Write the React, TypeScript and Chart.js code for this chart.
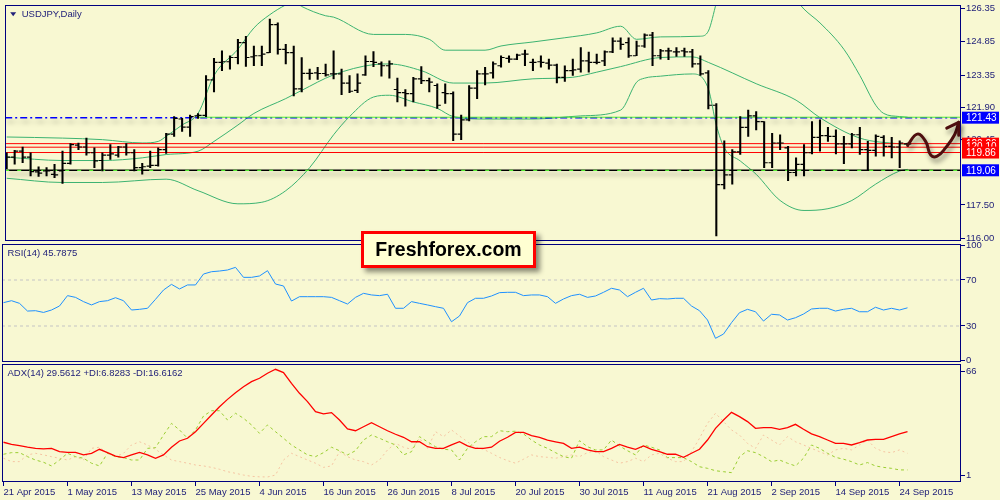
import React, { useEffect, useRef } from 'react';
import { Chart, registerables } from 'chart.js';

Chart.register(...registerables);

const BG = '#f8f8d2';
const NAVY = '#000080';
const TXT = '#22227a';
const FONT = '"Liberation Sans", Arial, sans-serif';
const BB = '#3cb371';

// ---------- price data (21 Apr 2015 .. 25 Sep 2015, daily bars) ----------
const opens = [
  119.62, 119.65, 119.92, 119.65, 118.99, 119.03, 118.88, 119.03, 119.37, 120.19,
  120.11, 119.85, 119.50, 119.74, 119.74, 120.11, 119.85, 119.18, 119.25, 119.28,
  119.99, 120.69, 121.37, 121.00, 121.51, 121.53, 123.13, 123.92, 123.95, 124.14,
  124.81, 124.17, 124.22, 124.36, 125.62, 124.51, 124.36, 122.73, 123.43, 123.45,
  123.42, 123.40, 123.40, 122.99, 122.66, 123.36, 123.96, 123.85, 123.77, 122.70,
  122.56, 122.51, 123.18, 123.10, 122.88, 122.56, 122.51, 120.69, 121.33, 122.76,
  123.40, 123.45, 123.77, 124.10, 124.07, 124.29, 123.92, 123.95, 123.89, 123.80,
  123.25, 123.55, 123.62, 123.99, 123.92, 123.99, 124.39, 124.88, 124.81, 124.22,
  124.66, 125.15, 124.22, 124.44, 124.39, 124.44, 124.39, 123.85, 123.45, 121.99,
  118.41, 118.85, 119.89, 120.99, 121.51, 121.25, 119.40, 120.29, 120.07, 118.96,
  119.33, 119.85, 120.54, 120.62, 120.59, 120.25, 120.25, 120.66, 119.99, 119.96,
  120.54, 120.14, 120.11, 120.25,
];
const highs = [
  119.85, 119.96, 120.11, 119.85, 119.22, 119.18, 119.33, 119.92, 120.26, 120.29,
  120.51, 120.07, 119.85, 120.22, 120.14, 120.26, 119.99, 119.37, 119.92, 120.07,
  120.73, 121.48, 121.40, 121.55, 121.61, 123.33, 124.10, 124.44, 124.22, 124.96,
  125.10, 124.66, 124.66, 125.87, 125.70, 124.73, 124.66, 124.14, 123.62, 123.70,
  123.85, 124.44, 123.62, 123.33, 123.40, 124.22, 124.41, 123.95, 123.99, 123.21,
  122.70, 123.25, 123.73, 123.21, 122.96, 122.96, 122.59, 121.55, 122.88, 123.55,
  123.70, 123.95, 124.22, 124.22, 124.29, 124.48, 124.07, 124.22, 124.07, 123.85,
  123.77, 124.07, 124.59, 124.39, 124.29, 124.44, 125.03, 125.03, 125.03, 124.88,
  125.21, 125.28, 124.51, 124.56, 124.59, 124.56, 124.51, 124.22, 123.55, 122.07,
  120.39, 119.99, 121.48, 121.77, 121.70, 121.25, 120.73, 120.66, 120.14, 119.62,
  120.22, 121.25, 121.33, 120.99, 120.88, 120.59, 120.73, 120.99, 120.36, 120.66,
  120.62, 120.54, 120.39, 120.29,
];
const lows = [
  119.13, 119.33, 119.40, 118.81, 118.78, 118.81, 118.73, 118.47, 119.33, 119.99,
  119.74, 119.18, 119.03, 119.55, 119.65, 119.74, 119.03, 118.88, 119.18, 119.25,
  119.82, 120.59, 120.81, 120.59, 121.40, 121.48, 122.59, 123.55, 123.62, 123.85,
  123.74, 123.77, 123.77, 124.36, 124.29, 123.85, 122.41, 122.59, 123.15, 123.15,
  123.30, 123.18, 122.47, 122.56, 122.56, 123.33, 123.73, 123.30, 123.21, 122.14,
  121.95, 122.14, 122.96, 122.59, 121.85, 122.07, 120.39, 120.44, 121.28, 122.29,
  122.91, 123.21, 123.70, 123.92, 124.04, 123.77, 123.55, 123.70, 123.62, 123.00,
  123.06, 123.33, 123.48, 123.48, 123.85, 123.77, 124.36, 124.51, 124.14, 124.22,
  124.59, 123.77, 124.07, 124.04, 124.19, 124.19, 123.70, 123.33, 121.82, 116.10,
  118.22, 118.44, 119.77, 120.59, 120.88, 119.18, 119.18, 119.99, 118.59, 118.81,
  118.81, 119.80, 119.92, 120.36, 119.80, 119.36, 120.07, 119.77, 119.06, 119.70,
  119.70, 119.62, 119.18, 120.14,
];
const closes = [
  119.65, 119.92, 119.65, 119.00, 118.93, 119.03, 118.85, 119.37, 120.22, 120.11,
  119.85, 119.48, 119.74, 119.80, 120.11, 119.85, 119.18, 119.22, 119.28, 119.99,
  120.69, 121.40, 121.00, 121.48, 121.53, 123.13, 123.92, 123.95, 124.14, 124.81,
  124.14, 124.22, 124.29, 125.62, 124.51, 124.36, 122.73, 123.43, 123.43, 123.42,
  123.36, 123.40, 122.99, 122.62, 122.99, 123.96, 123.92, 123.77, 123.85, 122.56,
  122.51, 123.18, 123.10, 123.03, 121.99, 122.51, 120.69, 121.33, 122.76, 123.40,
  123.40, 123.85, 124.14, 124.07, 124.25, 124.29, 123.92, 123.92, 123.80, 123.25,
  123.55, 123.58, 123.99, 123.92, 123.92, 124.39, 124.88, 124.73, 124.22, 124.66,
  125.15, 124.22, 124.44, 124.44, 124.39, 124.39, 123.85, 123.40, 121.99, 118.41,
  118.85, 119.89, 120.99, 121.51, 121.25, 119.40, 120.29, 120.29, 118.96, 119.33,
  119.85, 120.54, 120.62, 120.59, 120.25, 120.25, 120.66, 119.99, 119.96, 120.59,
  120.14, 120.11, 120.29, 120.25,
];

// Bollinger bands (read at sample bars)
const bbUpperIdx = [0, 7, 12, 17, 19, 20, 22, 24, 26, 29, 31, 33, 35, 36, 37, 40, 41, 46, 50, 53, 55, 60, 62, 66, 70, 74, 77, 79, 82, 87, 88, 89, 90, 92, 95, 97, 100, 102, 105, 107, 109, 110, 112, 113];
const bbUpper = [120.56, 120.51, 120.44, 120.29, 120.36, 120.59, 121.10, 121.62, 123.33, 124.51, 125.47, 126.07, 126.51, 126.66, 126.44, 126.02, 125.96, 125.18, 125.18, 124.96, 124.47, 124.47, 124.66, 124.84, 125.03, 125.25, 125.55, 124.96, 125.07, 125.10, 125.33, 126.59, 127.8, 128.5, 128.3, 127.6, 126.32, 125.70, 124.51, 123.33, 121.99, 121.62, 121.48, 121.45];
const bbMidIdx = [0, 7, 12, 17, 20, 24, 26, 29, 31, 35, 37, 41, 46, 48, 52, 56, 60, 66, 71, 74, 77, 82, 86, 88, 94, 99, 102, 107, 112, 113];
const bbMid = [119.65, 119.50, 119.50, 119.62, 119.77, 119.92, 120.36, 121.10, 121.62, 122.29, 122.66, 123.36, 123.82, 123.85, 123.55, 122.99, 122.99, 123.18, 123.25, 123.48, 123.73, 124.14, 124.17, 123.92, 122.96, 122.22, 121.43, 120.51, 120.25, 120.22];
const bbLowerIdx = [0, 7, 12, 20, 24, 29, 32, 35, 38, 41, 43, 46, 48, 51, 54, 56, 60, 66, 72, 77, 79, 80, 82, 86, 88, 89, 90, 92, 94, 97, 100, 103, 106, 109, 112, 113];
const bbLower = [118.70, 118.51, 118.51, 118.66, 118.14, 117.55, 117.62, 118.14, 119.18, 120.66, 121.48, 122.36, 122.44, 122.14, 121.85, 121.48, 121.37, 121.37, 121.51, 121.77, 123.03, 123.21, 123.30, 123.40, 122.73, 121.10, 120.07, 119.48, 118.88, 117.70, 117.25, 117.33, 117.70, 118.44, 119.03, 119.10];

// horizontal levels
const resistLevel = 121.43;
const resistGreen = 121.45;
const resistGreenFrom = 24;
const supportLevel = 119.06;
const redLevels = [120.26, 120.10, 119.86];
const tagValues = [121.43, 120.26, 120.10, 119.86, 119.06];
const tagColors = ['#0000ff', '#ff0000', '#ff0000', '#ff0000', '#0000ff'];
const priceTicks = [126.35, 124.85, 123.35, 121.9, 120.45, 117.5, 116.0];

// hand-drawn forecast arrow (bar index, price)
const arrowIdx = [113, 114.2, 115.25, 115.9, 116.7, 117.75, 118.9, 119.4];
const arrowPrice = [120.19, 120.69, 120.36, 119.74, 119.70, 120.07, 120.67, 121.22];
const headIdx = [117.9, 119.4, 119.4];
const headPrice = [120.96, 121.22, 120.64];

// ---------- RSI(14) ----------
const rsi = [
  50.3, 52, 49.7, 43, 43.3, 41.8, 43.9, 47.4, 56.4, 54.9,
  51.2, 48.3, 51.2, 52, 54.6, 52, 43.9, 44.5, 45.4, 53.2,
  61.3, 66.2, 62.2, 65.7, 65.7, 75.2, 77.2, 77.8, 78.7, 81,
  72.3, 72.3, 73.5, 78.1, 66.5, 64.8, 51.7, 55.5, 55.5, 55.5,
  55.5, 54.9, 52, 49.1, 54.9, 58.4, 57, 56.4, 57.6, 45.4,
  45.4, 51.2, 49.7, 48.3, 46.8, 45.4, 33.7, 38.7, 50.3, 54.1,
  54.1, 56.1, 59, 59.3, 59.3, 56.4, 57, 57, 55.5, 49.7,
  53.5, 56.4, 57.6, 54.9, 56.1, 59.3, 62.8, 61.3, 55.5, 59.3,
  62.8, 52.6, 53.8, 53.5, 54.1, 54.1, 47.4, 43.3, 35.2, 19.3,
  23, 32.9, 41.6, 44.5, 42.4, 34.3, 40.2, 39.6, 35.2, 37.2,
  40.4, 44.8, 45.4, 45.4, 43, 44.5, 45.4, 42.4, 42.4, 46.3,
  43.9, 45.4, 43.9, 45.8,
];
const rsiLevels = [70, 30];
const rsiTicks = [100, 70, 30, 0];

// ---------- ADX(14) ----------
const adx = [
  21.9, 20.6, 19.8, 18.8, 18.1, 17.7, 18.1, 16, 15.6, 15.6,
  14, 15, 17.5, 15.4, 13.3, 12.3, 14, 15.6, 14, 11.9,
  14, 18.8, 22.7, 24.4, 28.5, 33.7, 38.9, 44.1, 48.7, 52.9,
  56.6, 59.8, 61.9, 65, 67.5, 65.4, 58.7, 52.5, 47.3, 41,
  39.6, 40.4, 35.8, 30.2, 29.1, 31.6, 34.1, 31.6, 29.1, 26.9,
  25, 22.2, 22.2, 19.1, 18.1, 18.1, 20.2, 22.2, 19.6, 18.1,
  18.1, 18.8, 22.5, 25, 28.1, 28.1, 26, 25, 23.3, 22.2,
  21.2, 18.1, 18.8, 17.1, 16, 16, 18.1, 20.6, 18.8, 17.5,
  19.6, 17.5, 16, 14.4, 14.4, 12.5, 15, 17.5, 23.3, 30.6,
  35.8, 40.6, 37.9, 34.8, 30.6, 31, 31, 30, 31, 33.1,
  30, 27.1, 25.4, 23.3, 21.2, 21.2, 20.2, 21.6, 23.3, 23.7,
  23.7, 25.4, 27.1, 28.5,
];
const plusDI = [
  14.4, 15.4, 15.4, 12.9, 10.8, 9.4, 7.1, 10.8, 15, 12.9,
  11.9, 8.8, 7.1, 15, 12.9, 12.3, 10.8, 10.8, 18.1, 18.5,
  26.4, 33.7, 29.6, 24.4, 29.6, 38.3, 41.6, 41.6, 35.8, 40,
  36.9, 32.7, 27.5, 32.7, 28.5, 24.4, 20.2, 17.1, 14, 12.9,
  15.4, 18.8, 16.6, 14, 16.6, 23.3, 26.4, 24.4, 22.2, 20.2,
  14, 16, 25.4, 22.2, 19.1, 17.5, 17.1, 10.8, 18.1, 22.2,
  25.4, 25.4, 29.1, 28.5, 28.8, 27.1, 23.3, 20.2, 18.1, 15.4,
  12.9, 11.9, 22.9, 19.1, 17.1, 17.1, 23.3, 19.6, 16.6, 14,
  20.2, 18.8, 17.1, 12.3, 12.3, 12.3, 9.8, 6.6, 5.6, 4.1,
  3.5, 2.9, 12.9, 16.6, 15.4, 12.9, 9.8, 10.8, 8.8, 7.1,
  11.9, 20.2, 18.1, 15, 12.5, 11.3, 9.8, 7.7, 9.2, 7.1,
  6.2, 5.6, 4.6, 4.6,
];
const minusDI = [
  11.9, 9.8, 9.8, 14, 15, 14, 12.9, 11.9, 10.8, 12.9,
  10.8, 18.1, 18.8, 15, 12.9, 15, 20.2, 22.2, 20.2, 17.5,
  14, 10.8, 9.8, 8.8, 7.7, 7.1, 6.2, 5, 3.5, 2.5,
  1.4, 0.6, 0.3, 0.2, 1.4, 10.8, 15, 12.9, 10.8, 8.8,
  6.2, 7.1, 16, 12.9, 10.8, 9.8, 7.7, 10.8, 17.1, 21.2,
  18.8, 17.5, 24.4, 18.1, 28.5, 25.4, 29.6, 25.8, 22.2, 18.8,
  17.5, 15, 12.4, 10.4, 8.8, 11.3, 14, 12.9, 12.5, 11.9,
  12.9, 14, 12.9, 15.4, 16.6, 12.9, 10.8, 8.8, 9.8, 11.9,
  9.8, 14, 15, 11.9, 9.8, 9.8, 16, 24.4, 33.7, 40,
  34.8, 29.6, 26.4, 21.2, 18.1, 26.4, 23.3, 20.2, 25.4, 22.2,
  20.2, 18.1, 16, 14, 17.1, 18.1, 17.1, 20.2, 23.3, 18.1,
  16, 15.4, 17.1, 15,
];
const adxTicks = [66, 1];

// ---------- x axis ----------
const xTickIdx = [0, 8, 16, 24, 32, 40, 48, 56, 64, 72, 80, 88, 96, 104, 112];
const xTickLabels = [
  '21 Apr 2015', '1 May 2015', '13 May 2015', '25 May 2015', '4 Jun 2015',
  '16 Jun 2015', '26 Jun 2015', '8 Jul 2015', '20 Jul 2015', '30 Jul 2015',
  '11 Aug 2015', '21 Aug 2015', '2 Sep 2015', '14 Sep 2015', '24 Sep 2015',
];

const X_MIN = -0.1875;
const X_MAX = 119.6875;

// ---------- helpers ----------
const pts = (xs: number[], ys: number[]) => xs.map((x, k) => ({ x, y: ys[k] }));
const series = (ys: number[]) => ys.map((y, i) => ({ x: i, y }));
const hline = (v: number, from = X_MIN) => [{ x: from, y: v }, { x: X_MAX, y: v }];

const borderPlugin = {
  id: 'panelBorder',
  afterDraw(chart: any) {
    const { ctx, chartArea: a } = chart;
    ctx.save();
    ctx.strokeStyle = NAVY;
    ctx.lineWidth = 1;
    const l = Math.round(a.left) + 0.5;
    const t = Math.round(a.top) + 0.5;
    const r = Math.round(a.right) - 0.5;
    const b = Math.round(a.bottom) - 0.5;
    ctx.strokeRect(l, t, r - l, b - t);
    ctx.restore();
  },
};

const shadowPlugin = {
  id: 'dsShadow',
  beforeDatasetDraw(chart: any, args: any) {
    const ds = chart.data.datasets[args.index];
    if (ds.shadow) {
      const c = chart.ctx;
      c.save();
      c.shadowColor = ds.shadow;
      c.shadowBlur = 5;
      c.shadowOffsetX = 2;
      c.shadowOffsetY = 4;
    }
  },
  afterDatasetDraw(chart: any, args: any) {
    if (chart.data.datasets[args.index].shadow) chart.ctx.restore();
  },
};

const headerPlugin = (text: string, x: number, triangle: boolean) => ({
  id: 'header',
  afterDraw(chart: any) {
    const { ctx, chartArea: a } = chart;
    ctx.save();
    ctx.fillStyle = TXT;
    if (triangle) {
      ctx.beginPath();
      ctx.moveTo(a.left + 5, a.top + 7);
      ctx.lineTo(a.left + 11, a.top + 7);
      ctx.lineTo(a.left + 8, a.top + 11);
      ctx.closePath();
      ctx.fill();
    }
    ctx.font = `9.5px ${FONT}`;
    ctx.textBaseline = 'middle';
    ctx.textAlign = 'left';
    ctx.fillText(text, a.left + x, a.top + 9);
    ctx.restore();
  },
});

const tagPlugin = {
  id: 'priceTags',
  afterDraw(chart: any) {
    const { ctx, chartArea: a } = chart;
    const ys = chart.scales.y;
    ctx.save();
    ctx.font = `10px ${FONT}`;
    ctx.textBaseline = 'middle';
    ctx.textAlign = 'left';
    tagValues.forEach((v, k) => {
      const py = ys.getPixelForValue(v);
      ctx.fillStyle = tagColors[k];
      ctx.fillRect(a.right + 1, py - 6, 37, 12);
      ctx.fillStyle = '#ffffff';
      ctx.fillText(v.toFixed(2), a.right + 5, py + 0.5);
    });
    ctx.restore();
  },
};

const yAxisBase = (min: number, max: number, ticks: number[], fmt: (v: number) => string) => ({
  position: 'right',
  min,
  max,
  afterBuildTicks(scale: any) {
    scale.ticks = ticks.map((value) => ({ value }));
  },
  afterFit(scale: any) {
    scale.width = 39;
    scale.paddingTop = 0;
    scale.paddingBottom = 0;
  },
  border: { display: false },
  grid: { drawOnChartArea: false, drawTicks: true, tickLength: 4, tickColor: NAVY, color: NAVY, offset: false },
  ticks: {
    padding: 1,
    color: TXT,
    font: { family: FONT, size: 9.5 },
    autoSkip: false,
    callback: (v: any) => fmt(Number(v)),
  },
});

const hiddenX = { type: 'linear', min: X_MIN, max: X_MAX, display: false, offset: false, grid: { offset: false } };

const baseOptions = (padding: any, scales: any) => ({
  animation: false,
  responsive: false,
  events: [],
  layout: { padding },
  plugins: { legend: { display: false }, tooltip: { enabled: false } },
  scales,
});

const lineDs = (data: any[], color: string, width: number, extra: any = {}) => ({
  type: 'line',
  data,
  borderColor: color,
  borderWidth: width,
  pointRadius: 0,
  fill: false,
  ...extra,
});

function priceConfig(): any {
  const idx = opens.map((_, i) => i);
  return {
    type: 'bar',
    data: {
      datasets: [
        lineDs(pts(bbUpperIdx, bbUpper), BB, 1, { cubicInterpolationMode: 'monotone', order: 20 }),
        lineDs(pts(bbMidIdx, bbMid), BB, 1, { cubicInterpolationMode: 'monotone', order: 20 }),
        lineDs(pts(bbLowerIdx, bbLower), BB, 1, { cubicInterpolationMode: 'monotone', order: 20 }),
        ...redLevels.map((v) => lineDs(hline(v), '#ff0000', 1, { order: 15 })),
        lineDs(hline(supportLevel), '#000000', 1.5, { order: 14, shadow: 'rgba(0,0,0,0.35)' }),
        lineDs(hline(supportLevel), '#55ee33', 1.2, { order: 13, borderDash: [4, 8] }),
        lineDs(hline(resistLevel), '#0000ff', 1.5, { order: 14, borderDash: [7, 3, 2, 3], shadow: 'rgba(0,0,0,0.35)' }),
        lineDs(hline(resistGreen, resistGreenFrom), '#55ee33', 1, { order: 13 }),
        {
          type: 'bar',
          data: idx.map((i) => ({ x: i, y: [lows[i], highs[i]] })),
          backgroundColor: '#000000',
          borderWidth: 0,
          barThickness: 1.4,
          order: 5,
        },
        {
          type: 'line',
          showLine: false,
          data: idx.map((i) => ({ x: i - 0.25, y: opens[i] })),
          pointStyle: 'line',
          pointRadius: 1.6,
          pointBorderColor: '#000000',
          pointBorderWidth: 1.2,
          borderColor: '#000000',
          order: 4,
        },
        {
          type: 'line',
          showLine: false,
          data: idx.map((i) => ({ x: i + 0.25, y: closes[i] })),
          pointStyle: 'line',
          pointRadius: 1.6,
          pointBorderColor: '#000000',
          pointBorderWidth: 1.2,
          borderColor: '#000000',
          order: 4,
        },
        lineDs(pts(arrowIdx, arrowPrice), '#4e0e0e', 3, {
          tension: 0.45,
          borderCapStyle: 'round',
          borderJoinStyle: 'round',
          clip: false,
          order: 1,
          shadow: 'rgba(0,0,0,0.45)',
        }),
        lineDs(pts(headIdx, headPrice), '#4e0e0e', 3, {
          borderCapStyle: 'round',
          borderJoinStyle: 'round',
          clip: false,
          order: 0,
          shadow: 'rgba(0,0,0,0.45)',
        }),
      ],
    },
    options: baseOptions({ left: 2, top: 2, right: 0, bottom: 9.3 }, {
      x: hiddenX,
      y: yAxisBase(115.888, 126.497, priceTicks, (v) => v.toFixed(2)),
    }),
    plugins: [shadowPlugin, borderPlugin, tagPlugin, headerPlugin('USDJPY,Daily', 16.5, true)],
  };
}

function rsiConfig(): any {
  return {
    type: 'line',
    data: {
      datasets: [
        ...rsiLevels.map((v) => lineDs(hline(v), '#c4c4c4', 1, { borderDash: [3, 3], order: 5 })),
        lineDs(series(rsi), '#1e90ff', 1, { order: 1 }),
      ],
    },
    options: baseOptions({ left: 2, top: 8, right: 0, bottom: 6.5 }, {
      x: hiddenX,
      y: yAxisBase(-0.87, 101.3, rsiTicks, (v) => String(v)),
    }),
    plugins: [borderPlugin, headerPlugin('RSI(14) 45.7875', 5.5, false)],
  };
}

function adxConfig(): any {
  return {
    type: 'line',
    data: {
      datasets: [
        lineDs(series(minusDI), '#f5c4a2', 1, { borderDash: [2, 3], order: 3 }),
        lineDs(series(plusDI), '#9acd32', 1, { borderDash: [3, 3], order: 2 }),
        lineDs(series(adx), '#ff0000', 1.3, { order: 1 }),
      ],
    },
    options: baseOptions({ left: 2, top: 8, right: 0, bottom: 0 }, {
      x: {
        type: 'linear',
        min: X_MIN,
        max: X_MAX,
        offset: false,
        position: 'bottom',
        afterBuildTicks(scale: any) {
          scale.ticks = xTickIdx.map((value) => ({ value }));
        },
        afterFit(scale: any) {
          scale.height = 18;
          scale.paddingLeft = 0;
          scale.paddingRight = 0;
        },
        border: { display: false },
        grid: { drawOnChartArea: false, drawTicks: true, tickLength: 4, tickColor: NAVY, color: NAVY, offset: false },
        ticks: {
          align: 'start',
          padding: 1,
          maxRotation: 0,
          minRotation: 0,
          autoSkip: false,
          color: TXT,
          font: { family: FONT, size: 9.5 },
          callback: (_v: any, k: number) => xTickLabels[k],
        },
      },
      y: yAxisBase(-2.94, 70.8, adxTicks, (v) => String(v)),
    }),
    plugins: [borderPlugin, headerPlugin('ADX(14) 29.5612 +DI:6.8283 -DI:16.6162', 5.5, false)],
  };
}

export default function App() {
  const pRef = useRef<HTMLCanvasElement>(null);
  const rRef = useRef<HTMLCanvasElement>(null);
  const aRef = useRef<HTMLCanvasElement>(null);

  useEffect(() => {
    const charts = [
      new Chart(pRef.current as HTMLCanvasElement, priceConfig()),
      new Chart(rRef.current as HTMLCanvasElement, rsiConfig()),
      new Chart(aRef.current as HTMLCanvasElement, adxConfig()),
    ];
    return () => charts.forEach((c) => c.destroy());
  }, []);

  const abs = (top: number, h: number): any => ({ position: 'absolute', left: 0, top, width: 1000, height: h });

  return (
    <div style={{ position: 'fixed', left: 0, top: 0, width: 1000, height: 500, background: BG, overflow: 'hidden' }}>
      <canvas ref={pRef} width={1000} height={250} style={abs(0, 250)} />
      <canvas ref={rRef} width={1000} height={132} style={abs(236, 132)} />
      <canvas ref={aRef} width={1000} height={144} style={abs(356, 144)} />
      <div
        style={{
          position: 'absolute',
          left: 361,
          top: 231,
          width: 175,
          height: 37,
          boxSizing: 'border-box',
          border: '3px solid #ff0000',
          background: '#ffffd2',
          boxShadow: '4px 4px 5px rgba(0,0,0,0.45)',
          display: 'flex',
          alignItems: 'center',
          justifyContent: 'center',
          font: `bold 19.5px ${FONT}`,
          color: '#000000',
        }}
      >
        Freshforex.com
      </div>
    </div>
  );
}
